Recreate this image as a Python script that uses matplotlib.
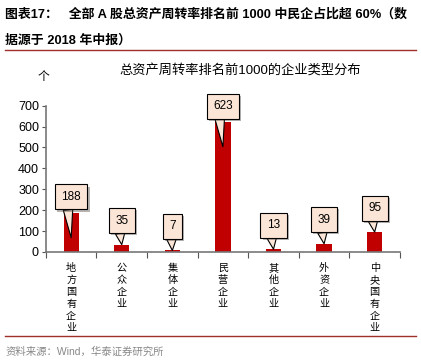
import matplotlib.pyplot as plt
import matplotlib.patheffects as pe
import numpy as np

plt.rcParams['font.family'] = ['Liberation Sans', 'Noto Sans CJK SC']

categories = ['地方国有企业', '公众企业', '集体企业', '民营企业', '其他企业', '外资企业', '中央国有企业']
counts = [188, 35, 7, 623, 13, 39, 95]
yticks = [0, 100, 200, 300, 400, 500, 600, 700]

header1 = '图表17：   全部 A 股总资产周转率排名前 1000 中民企占比超 60%（数'
header2 = '据源于 2018 年中报）'
chart_title = '总资产周转率排名前1000的企业类型分布'
source = '资料来源：Wind，华泰证券研究所'

red = '#c00000'
fig = plt.figure(figsize=(4.21, 3.63), dpi=100)
ax = fig.add_axes([0.109, 0.306, 0.841, 0.403])

x = np.arange(len(categories))
ax.bar(x, counts, width=0.3, color=red, zorder=2)

# callouts: big bars point into the bar, small ones to the top
for xi, v in zip(x, counts):
    if v > 150:
        tip, off = v - 120, 25
    else:
        tip, off = v, 13
    ann = ax.annotate(str(v), xy=(xi, tip), xytext=(0, off),
                      textcoords='offset points', ha='center', va='bottom',
                      fontsize=8.5, annotation_clip=False, zorder=5,
                      bbox=dict(boxstyle='square,pad=0.55', fc='#fbe5d6', ec='black', lw=0.8),
                      arrowprops=dict(arrowstyle='wedge,tail_width=0.8,shrink_factor=0.5',
                                      fc='#fbe5d6', ec='black', lw=0.8,
                                      relpos=(0.3, 0), shrinkA=0, shrinkB=0))
    ann.get_bbox_patch().set_path_effects([pe.SimplePatchShadow(offset=(1.5, -1.5), alpha=0.4), pe.Normal()])

ax.set_xlim(-0.5, len(categories) - 0.5)
ax.set_ylim(0, 700)
ax.set_yticks(yticks)
ax.set_yticklabels([str(t) for t in yticks], fontsize=9)
ax.set_xticks(np.arange(len(categories) + 1) - 0.5)
ax.set_xticklabels([])
ax.set_xticks(x, minor=True)
ax.set_xticklabels(['\n'.join(c) for c in categories], minor=True, fontsize=7.3,
                   linespacing=1.25, va='top')
ax.tick_params(axis='x', which='minor', length=0, pad=8)
ax.tick_params(axis='x', which='major', length=4, direction='out', color='#555555')
ax.tick_params(axis='y', length=3, direction='out', color='#555555', pad=2)
for s in ['top', 'right']:
    ax.spines[s].set_visible(False)
for s in ['left', 'bottom']:
    ax.spines[s].set_color('#777777')
    ax.spines[s].set_linewidth(1.2)

fig.text(0.102, 0.787, '个', fontsize=8.5, ha='center', va='center')
fig.text(0.57, 0.807, chart_title, fontsize=9.5, ha='center', va='center')

fig.text(0.012, 0.96, header1, fontsize=9.3, weight='bold', va='center')
fig.text(0.012, 0.888, header2, fontsize=9.3, weight='bold', va='center')
fig.add_artist(plt.Line2D([0.012, 0.988], [0.862, 0.862], color='#a0302a', lw=1))
fig.add_artist(plt.Line2D([0.012, 0.988], [0.074, 0.074], color='#a0302a', lw=1))
fig.text(0.014, 0.030, source, fontsize=7.5, color='#888888', va='center')

fig.savefig('out.png', dpi=100)
